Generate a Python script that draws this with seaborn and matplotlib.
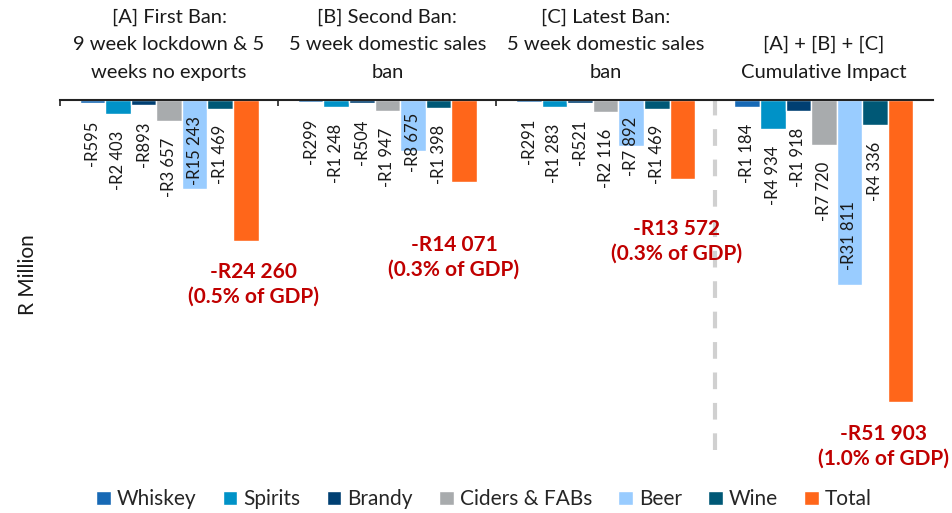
import matplotlib
matplotlib.use("Agg")
import matplotlib.pyplot as plt
import seaborn as sns
import pandas as pd

# data (R million)
groups = ["[A] First Ban:\n9 week lockdown & 5\nweeks no exports",
          "[B] Second Ban:\n5 week domestic sales\nban",
          "[C] Latest Ban:\n5 week domestic sales\nban",
          "[A] + [B] + [C]\nCumulative Impact"]
drinks = ["Whiskey", "Spirits", "Brandy", "Ciders & FABs", "Beer", "Wine", "Total"]
whiskey = [-595, -299, -291, -1184]
spirits = [-2403, -1248, -1283, -4934]
brandy = [-893, -504, -521, -1918]
ciders = [-3657, -1947, -2116, -7720]
beer = [-15243, -8675, -7892, -31811]
wine = [-1469, -1398, -1469, -4336]
total = [-24260, -14071, -13572, -51903]
gdp_share = ["0.5%", "0.3%", "0.3%", "1.0%"]

colors = ["#1769B5", "#0092C7", "#003F72", "#A8ABAD", "#99CCFF", "#005876", "#FF661A"]

series = [whiskey, spirits, brandy, ciders, beer, wine, total]
rows = []
for d, vals in zip(drinks, series):
    for g, v in zip(groups, vals):
        rows.append({"group": g, "drink": d, "value": v})
df = pd.DataFrame(rows)

sns.set_style("white")
plt.rcParams["font.family"] = ["Lato", "DejaVu Sans"]

fig = plt.figure(figsize=(9.53, 5.13), dpi=100)
ax = fig.add_axes([60 / 953, 1 - 450 / 513, 873 / 953, 350 / 513])

sns.barplot(data=df, x="group", y="value", hue="drink", order=groups,
            hue_order=drinks, palette=colors, saturation=1, width=0.82,
            ax=ax, legend=True)

ax.set_xlim(-0.5, 3.5)
ax.set_ylim(-60100, 0)

# value labels
fmt = lambda v: "-R" + f"{abs(v):,}".replace(",", " ")
beer_label_y = [-8600, -7200, -8000, -23200]
for container, d, vals in zip(ax.containers, drinks, series):
    if d == "Total":
        continue
    for i, (bar, v) in enumerate(zip(container, vals)):
        xc = bar.get_x() + bar.get_width() / 2
        if d == "Beer":
            ax.text(xc, beer_label_y[i], fmt(v), rotation=90, ha="center",
                    va="center", fontsize=12, color="#1a1a1a")
        else:
            ax.annotate(fmt(v), (xc, v), xytext=(0, -12), textcoords="offset points",
                        rotation=90, ha="center", va="top", fontsize=12,
                        color="#1a1a1a")

# total labels
total_label_y = [-31600, -27000, -24200, -59500]
total_label_dx = [0.037, -0.046, -0.028, -0.08]
for i, bar in enumerate(ax.containers[-1]):
    xc = bar.get_x() + bar.get_width() / 2 + total_label_dx[i]
    ax.text(xc, total_label_y[i], f"{fmt(total[i])}\n({gdp_share[i]} of GDP)",
            ha="center", va="center", fontsize=15, fontweight="bold",
            color="#C00000", linespacing=1.3, clip_on=False)

# separator before cumulative group
ax.axvline(2.5, color="#D0D0D0", lw=3, ls=(0, (4, 3.3)), ymin=0, ymax=1)

# group labels on top
ax.xaxis.tick_top()
ax.set_xticks(range(len(groups)))
ax.set_xticklabels(groups, fontsize=14.5, color="#1a1a1a")
for t in ax.get_xticklabels():
    t.set_linespacing(1.75)
ax.tick_params(axis="x", which="major", length=0, pad=14)
ax.set_xticks([-0.5, 0.5, 1.5, 2.5], minor=True)
ax.tick_params(axis="x", which="minor", direction="in", length=4, width=1.2,
               color="#222222")
ax.set_xlabel("")

ax.set_yticks([])
ax.set_ylabel("R Million", fontsize=15, labelpad=16, color="#1a1a1a")

for s in ["left", "right", "bottom"]:
    ax.spines[s].set_visible(False)
ax.spines["top"].set_color("#222222")
ax.spines["top"].set_linewidth(1.5)

handles, labels = ax.get_legend_handles_labels()
ax.get_legend().remove()
fig.legend(handles, labels, loc="center", bbox_to_anchor=(0.508, 0.027),
           ncol=7, frameon=False, fontsize=15, handlelength=0.7,
           handleheight=0.7, handletextpad=0.3, columnspacing=1.25)

fig.savefig("out.png", dpi=100)
